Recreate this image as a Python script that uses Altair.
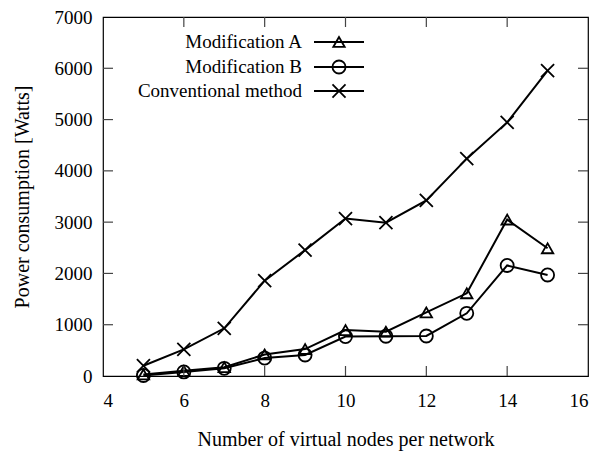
import altair as alt
import pandas as pd

nodes = [5, 6, 7, 8, 9, 10, 11, 12, 13, 14, 15]
mod_a = [30, 100, 170, 420, 525, 895, 865, 1240, 1612, 3050, 2490]
mod_b = [10, 80, 150, 350, 410, 770, 775, 780, 1222, 2155, 1970]
conventional = [200, 520, 930, 1860, 2455, 3070, 2990, 3425, 4238, 4945, 5955]

series_names = ["Modification A", "Modification B", "Conventional method"]
x_ticks = [4, 6, 8, 10, 12, 14, 16]
y_ticks = [0, 1000, 2000, 3000, 4000, 5000, 6000, 7000]

W, H = 485, 359
FONT = "Times New Roman, Liberation Serif, DejaVu Serif, serif"
FS = 19
TFS = 20

rows = []
for name, vals in zip(series_names, [mod_a, mod_b, conventional]):
    for n, v in zip(nodes, vals):
        rows.append({"x": n, "y": v, "series": name})
df = pd.DataFrame(rows)

xs = alt.Scale(domain=[4, 16], nice=False, zero=False)
ys = alt.Scale(domain=[0, 7000], nice=False)

X = alt.X("x:Q", scale=xs, axis=alt.Axis(values=x_ticks, ticks=False, domain=False, grid=False,
          labelPadding=15, titlePadding=19, title="Number of virtual nodes per network"))
Y = alt.Y("y:Q", scale=ys, axis=alt.Axis(values=y_ticks, ticks=False, domain=False, grid=False, format="d",
          labelPadding=11, titlePadding=22, title="Power consumption [Watts]"))

base = alt.Chart(df)
lines = base.mark_line(color="black", strokeWidth=2).encode(x=X, y=Y, detail="series:N")

shapes = {
    "Modification A": dict(shape="triangle-up", size=130),
    "Modification B": dict(shape="circle", size=170),
    "Conventional method": dict(shape="M-1,-1L1,1M-1,1L1,-1", size=170),
}
point_layers = []
for name in series_names:
    point_layers.append(
        alt.Chart(df[df.series == name]).mark_point(
            filled=False, color="black", strokeWidth=1.8, opacity=1, **shapes[name]
        ).encode(x=alt.X("x:Q", scale=xs), y=alt.Y("y:Q", scale=ys))
    )

# inward mirrored ticks
xt = pd.DataFrame({"t": x_ticks[1:-1]})
yt = pd.DataFrame({"t": y_ticks[1:-1]})
tick_color = "#444"
tk = 10
xb = alt.Chart(xt).mark_rule(color=tick_color, strokeWidth=1.2).encode(
    x=alt.X("t:Q", scale=xs), y=alt.value(H), y2=alt.value(H - tk))
xtp = alt.Chart(xt).mark_rule(color=tick_color, strokeWidth=1.2).encode(
    x=alt.X("t:Q", scale=xs), y=alt.value(0), y2=alt.value(tk))
yl = alt.Chart(yt).mark_rule(color=tick_color, strokeWidth=1.2).encode(
    y=alt.Y("t:Q", scale=ys), x=alt.value(0), x2=alt.value(tk))
yr = alt.Chart(yt).mark_rule(color=tick_color, strokeWidth=1.2).encode(
    y=alt.Y("t:Q", scale=ys), x=alt.value(W - tk), x2=alt.value(W))

# legend
leg_y = [25, 50, 74]
leg = pd.DataFrame({"name": series_names, "py": leg_y})
leg_text = alt.Chart(leg).mark_text(align="right", baseline="middle", font=FONT, fontSize=FS,
                                    color="black").encode(
    text="name:N", x=alt.value(199), y=alt.Y("py:Q", scale=None))
leg_line = alt.Chart(leg).mark_rule(color="black", strokeWidth=2).encode(
    x=alt.value(211), x2=alt.value(261), y=alt.Y("py:Q", scale=None))
leg_pts = []
for name in series_names:
    leg_pts.append(
        alt.Chart(leg[leg.name == name]).mark_point(
            filled=False, color="black", strokeWidth=1.8, opacity=1, **shapes[name]
        ).encode(x=alt.value(236), y=alt.Y("py:Q", scale=None))
    )

chart = alt.layer(lines, *point_layers, xb, xtp, yl, yr, leg_line, leg_text, *leg_pts).properties(
    width=W, height=H,
    autosize=alt.AutoSizeParams(type="none"),
    padding={"left": 95, "top": 9, "right": 10, "bottom": 79},
).configure(font=FONT).configure_view(stroke="black", strokeWidth=1.2).configure_axis(
    labelFont=FONT, titleFont=FONT, labelFontSize=FS, titleFontSize=TFS,
    labelColor="black", titleColor="black", titleFontWeight="normal",
)

chart.save("out.html", embed_options={"renderer": "svg", "actions": False})
